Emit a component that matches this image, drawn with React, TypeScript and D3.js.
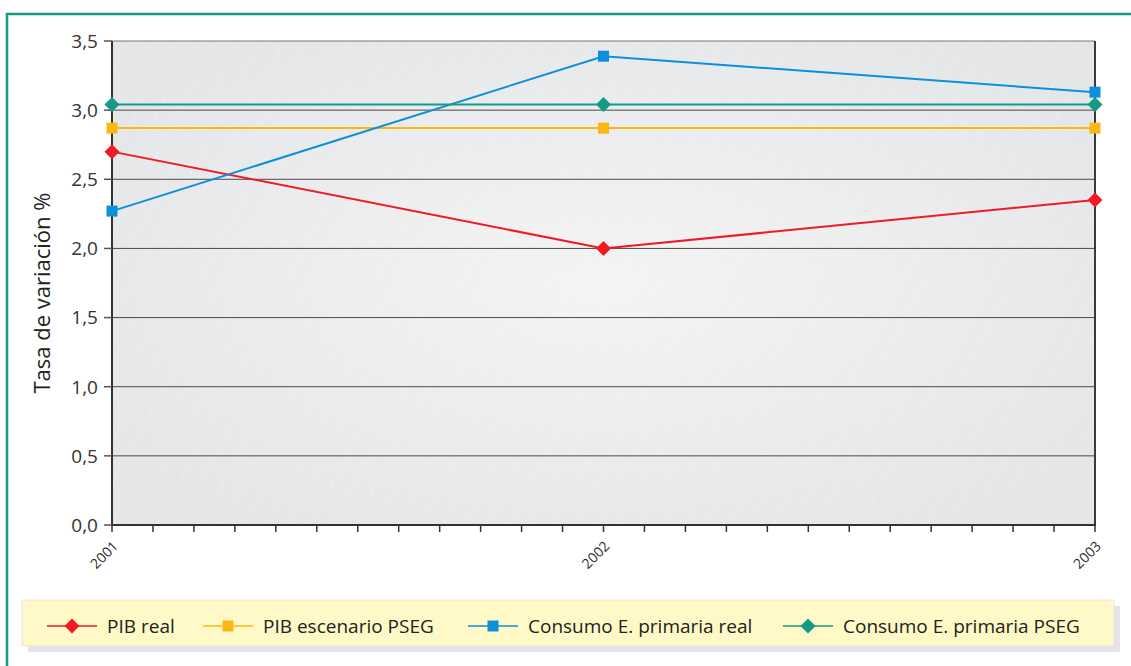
import React from "react";
import * as d3 from "d3";

const years = ["2001", "2002", "2003"];
const pibReal = [2.7, 2.0, 2.35];
const pibPseg = [2.87, 2.87, 2.87];
const consumoReal = [2.27, 3.39, 3.13];
const consumoPseg = [3.04, 3.04, 3.04];
const yTicks = [0, 0.5, 1, 1.5, 2, 2.5, 3, 3.5];
const yLabel = "Tasa de variación %";

type Series = { name: string; values: number[]; color: string; marker: "diamond" | "square" };
const series: Series[] = [
  { name: "PIB real", values: pibReal, color: "#ee1c25", marker: "diamond" },
  { name: "PIB escenario PSEG", values: pibPseg, color: "#fbb713", marker: "square" },
  { name: "Consumo E. primaria real", values: consumoReal, color: "#0d8fda", marker: "square" },
  { name: "Consumo E. primaria PSEG", values: consumoPseg, color: "#139b84", marker: "diamond" },
];
const legendX = [47, 203, 468, 783];

const W = 1131, H = 666;
const plot = { left: 112, right: 1095, top: 41, bottom: 525 };
const font = "'Open Sans', 'Noto Sans', sans-serif";

function Marker({ kind, x, y, color }: { kind: string; x: number; y: number; color: string }) {
  if (kind === "diamond") {
    const r = 7.5;
    return <path d={`M${x},${y - r}L${x + r},${y}L${x},${y + r}L${x - r},${y}Z`} fill={color} />;
  }
  const s = 11;
  return <rect x={x - s / 2} y={y - s / 2} width={s} height={s} fill={color} />;
}

export default function App() {
  const x = d3.scalePoint<string>().domain(years).range([plot.left, plot.right]);
  const y = d3.scaleLinear().domain([0, 3.5]).range([plot.bottom, plot.top]);
  const monthStep = (plot.right - plot.left) / 24;
  const monthTicks = d3.range(25).map((i) => plot.left + i * monthStep);
  const line = d3
    .line<number>()
    .x((_, i) => x(years[i]) as number)
    .y((d) => y(d));
  const hatch = d3.range(-30, 60).map((i) => plot.left + i * 22);

  return (
    <div style={{ position: "absolute", left: 0, top: 0 }}>
      <svg width={W} height={H} style={{ display: "block", fontFamily: font }}>
        <defs>
          <radialGradient id="bg" cx="0.5" cy="0.5" r="0.6">
            <stop offset="0" stopColor="#f4f4f4" />
            <stop offset="1" stopColor="#e5e6e8" />
          </radialGradient>
          <clipPath id="pc">
            <rect x={plot.left} y={plot.top} width={plot.right - plot.left} height={plot.bottom - plot.top} />
          </clipPath>
        </defs>
        <rect x={0} y={0} width={W} height={H} fill="#fff" />
        {/* frame */}
        <path d={`M7,${H}V14H${W}`} fill="none" stroke="#169c86" strokeWidth={2.5} />

        {/* plot background */}
        <rect x={plot.left} y={plot.top} width={plot.right - plot.left} height={plot.bottom - plot.top} fill="url(#bg)" />
        <g clipPath="url(#pc)" stroke="#ffffff" strokeOpacity={0.35} strokeWidth={0.8}>
          {hatch.map((hx, i) => (
            <line key={i} x1={hx} y1={plot.bottom} x2={hx + 260} y2={plot.top} />
          ))}
        </g>

        {/* gridlines */}
        {yTicks.map((t) => (
          <line key={t} x1={plot.left} x2={plot.right} y1={y(t)} y2={y(t)} stroke={t === 3.5 ? "#777" : "#4a4a4a"} strokeWidth={1} />
        ))}
        <line x1={plot.right} x2={plot.right} y1={plot.top} y2={plot.bottom} stroke="#3a3a3a" strokeWidth={2} />
        <line x1={plot.left} x2={plot.left} y1={plot.top} y2={plot.bottom + 1} stroke="#333" strokeWidth={2} />
        <line x1={plot.left - 1} x2={plot.right + 1} y1={plot.bottom} y2={plot.bottom} stroke="#333" strokeWidth={2} />

        {/* y ticks */}
        {yTicks.map((t) => (
          <g key={t}>
            <line x1={plot.left - 8} x2={plot.left} y1={y(t)} y2={y(t)} stroke="#555" strokeWidth={1.5} />
            <text x={98} y={y(t)} dy="0.36em" textAnchor="end" fontSize={19} fill="#333">
              {d3.format(".1f")(t).replace(".", ",")}
            </text>
          </g>
        ))}
        <text
          transform={`translate(50,293) rotate(-90)`}
          textAnchor="middle"
          fontSize={22}
          fill="#222"
        >
          {yLabel}
        </text>

        {/* x ticks */}
        {monthTicks.map((tx, i) => (
          <line key={i} x1={tx} x2={tx} y1={plot.bottom} y2={plot.bottom + 7} stroke="#333" strokeWidth={1.5} />
        ))}
        {years.map((yr) => (
          <text
            key={yr}
            transform={`translate(${(x(yr) as number) + 7},${plot.bottom + 22}) rotate(-45)`}
            textAnchor="end"
            fontSize={14}
            fill="#2a2a2a"
          >
            {yr}
          </text>
        ))}

        {/* series */}
        {series.map((s) => (
          <g key={s.name}>
            <path d={line(s.values) ?? ""} fill="none" stroke={s.color} strokeWidth={2} />
            {s.values.map((v, i) => (
              <Marker key={i} kind={s.marker} x={x(years[i]) as number} y={y(v)} color={s.color} />
            ))}
          </g>
        ))}

        {/* legend */}
        <rect x={28} y={606} width={1092} height={46} fill="#e4e4e7" />
        <rect x={22} y={600} width={1092} height={46} fill="#fef9c6" stroke="#e8e8e4" strokeWidth={1} />
        {series.map((s, i) => {
          const lx = legendX[i];
          const ly = 626;
          return (
            <g key={s.name}>
              <line x1={lx} x2={lx + 50} y1={ly} y2={ly} stroke={s.color} strokeWidth={1.5} />
              <Marker kind={s.marker} x={lx + 25} y={ly} color={s.color} />
              <text x={lx + 60} y={ly} dy="0.35em" fontSize={19} fill="#222">
                {s.name}
              </text>
            </g>
          );
        })}
      </svg>
    </div>
  );
}
